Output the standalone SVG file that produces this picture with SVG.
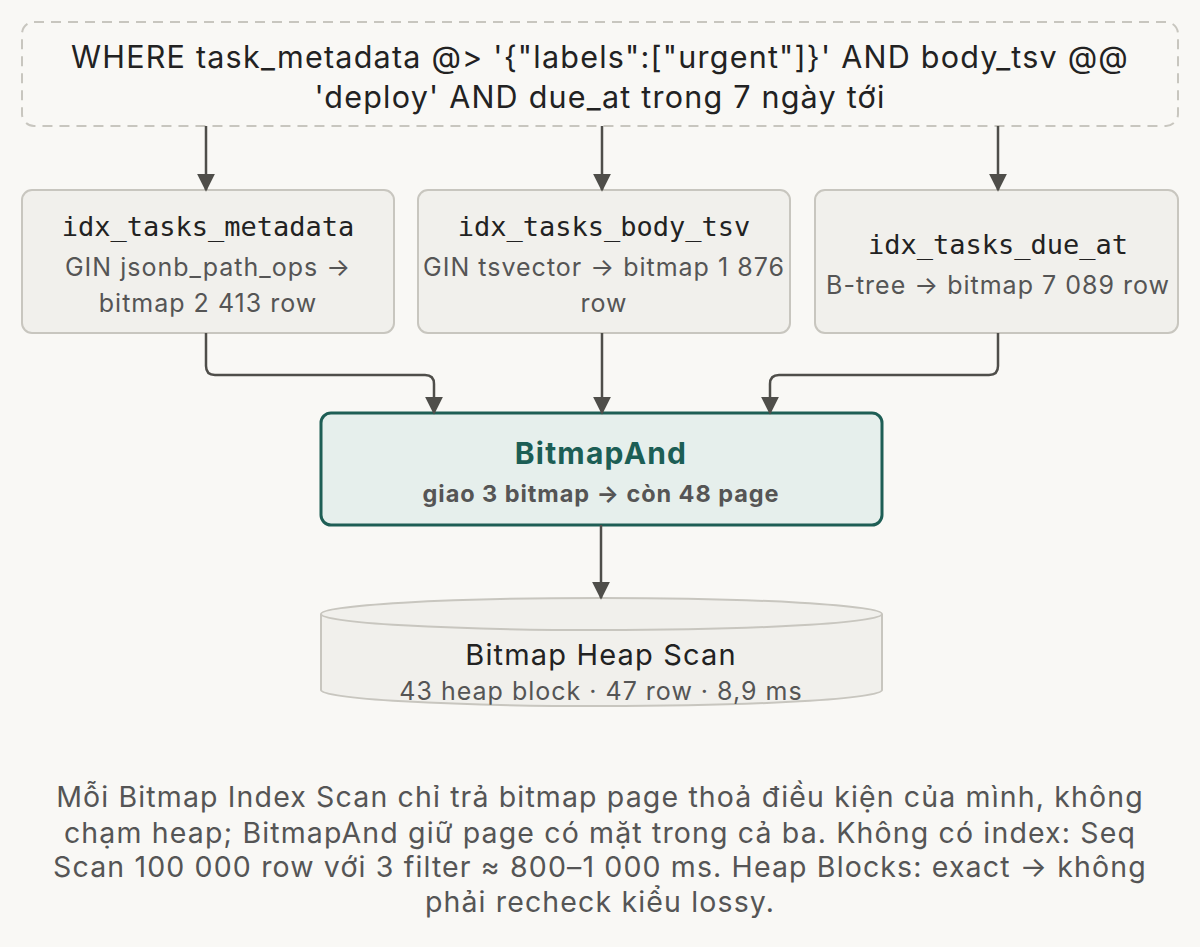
<svg xmlns="http://www.w3.org/2000/svg" width="1200" height="947" viewBox="0 0 1200 947">
<style>
.box{fill:#f1f0ec;stroke:#c8c6bf;stroke-width:2}
.t{font-family:Inter,"Noto Sans",sans-serif;fill:#222;text-anchor:middle;letter-spacing:0.04em}
.m{font-family:"DejaVu Sans Mono","Liberation Mono",monospace;font-size:27px;fill:#222;text-anchor:middle}
.s{font-family:Inter,"Noto Sans",sans-serif;font-size:25px;fill:#555;text-anchor:middle;letter-spacing:0.04em}
.c{fill:none;stroke:#4f4e4a;stroke-width:2.5}
</style>
<defs><marker id="b" viewBox="0 0 10 10" markerWidth="18" markerHeight="18" refX="9" refY="5" orient="auto" markerUnits="userSpaceOnUse"><path d="M0,0 L10,5 L0,10 z" fill="#4f4e4a"/></marker></defs>
<rect width="1200" height="947" fill="#f9f8f5"/>
<g id="query"><rect x="22" y="22" width="1156" height="104" rx="12" fill="none" stroke="#c8c6bf" stroke-width="2" stroke-dasharray="10,7"/>
<text class="t" font-size="30.5" x="600" y="68">WHERE task_metadata @&gt; '{"labels":["urgent"]}' AND body_tsv @@</text>
<text class="t" font-size="30.5" x="600" y="108">'deploy' AND due_at trong 7 ngày tới</text></g>
<g id="idx1"><rect class="box" x="22" y="190" width="372" height="143" rx="10"/>
<text class="m" x="208" y="236">idx_tasks_metadata</text>
<text class="s" x="208" y="276">GIN jsonb_path_ops →</text>
<text class="s" x="208" y="312">bitmap 2 413 row</text></g>
<g id="idx2"><rect class="box" x="418" y="190" width="372" height="143" rx="10"/>
<text class="m" x="604" y="236">idx_tasks_body_tsv</text>
<text class="s" x="604" y="276">GIN tsvector → bitmap 1 876</text>
<text class="s" x="604" y="312">row</text></g>
<g id="idx3"><rect class="box" x="815" y="190" width="363" height="143" rx="10"/>
<text class="m" x="998" y="254">idx_tasks_due_at</text>
<text class="s" x="998" y="294">B-tree → bitmap 7 089 row</text></g>
<g id="and"><rect x="321" y="413" width="561" height="112" rx="10" fill="#e6efec" stroke="#1e5e55" stroke-width="3"/>
<text class="t" x="601" y="464" font-size="30" font-weight="bold" style="fill:#1c5e55">BitmapAnd</text>
<text class="t" x="601" y="502" font-size="23.5" font-weight="bold" style="fill:#555">giao 3 bitmap → còn 48 page</text></g>
<g id="heap"><path d="M321,614 L321,690 A280.5,16 0 0 0 882,690 L882,614" fill="#f1f0ec" stroke="#c8c6bf" stroke-width="2"/>
<ellipse cx="601.5" cy="614" rx="280.5" ry="16" fill="#f1f0ec" stroke="#c8c6bf" stroke-width="2"/>
<text class="t" x="601" y="665" font-size="29">Bitmap Heap Scan</text>
<text class="s" x="601" y="700" font-size="23.5">43 heap block · 47 row · 8,9 ms</text></g>
<g id="connectors">
<path class="c" marker-end="url(#b)" d="M206,126 V190"/>
<path class="c" marker-end="url(#b)" d="M602,126 V190"/>
<path class="c" marker-end="url(#b)" d="M998,126 V190"/>
<path class="c" marker-end="url(#b)" d="M206,333 V366 Q206,375 215,375 H425 Q434,375 434,384 V413"/>
<path class="c" marker-end="url(#b)" d="M602,333 V413"/>
<path class="c" marker-end="url(#b)" d="M998,333 V366 Q998,375 989,375 H779 Q770,375 770,384 V413"/>
<path class="c" marker-end="url(#b)" d="M601,525 V598"/>
</g>
<g id="note" font-size="28.5">
<text class="t" x="600" y="807" style="fill:#555">Mỗi Bitmap Index Scan chỉ trả bitmap page thoả điều kiện của mình, không</text>
<text class="t" x="600" y="843" style="fill:#555">chạm heap; BitmapAnd giữ page có mặt trong cả ba. Không có index: Seq</text>
<text class="t" x="600" y="877" style="fill:#555">Scan 100 000 row với 3 filter ≈ 800–1 000 ms. Heap Blocks: exact → không</text>
<text class="t" x="600" y="912" style="fill:#555">phải recheck kiểu lossy.</text>
</g>
</svg>
